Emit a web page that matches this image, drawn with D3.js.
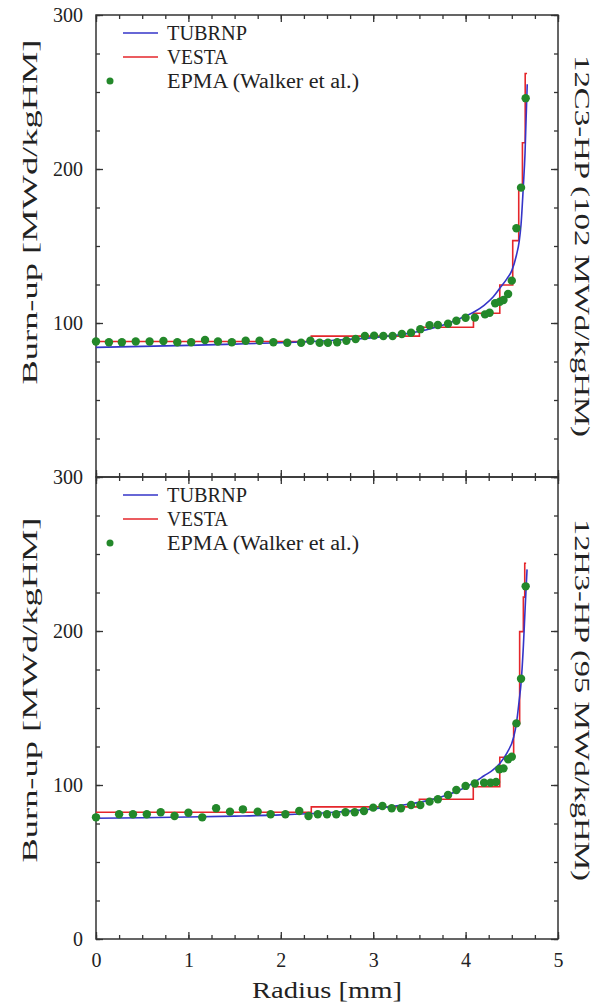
<!DOCTYPE html>
<html><head><meta charset="utf-8">
<script src="https://cdn.jsdelivr.net/npm/d3@7"></script>
<style>
body{margin:0;background:#fff;}
svg{display:block;}
text{font-family:"Liberation Serif","Times New Roman",serif;fill:#222;}
</style></head>
<body>
<svg id="c" width="594" height="1004"></svg>
<script>
// ---------- data ----------
const xTicks = [0, 1, 2, 3, 4, 5];
const yTicksTop = [100, 200, 300];
const yTicksBottom = [0, 100, 200, 300];
const legendLabels = ["TUBRNP", "VESTA", "EPMA (Walker et al.)"];
const yAxisTitle = "Burn-up [MWd/kgHM]";
const xAxisTitle = "Radius [mm]";
const panelTitles = ["12C3-HP (102 MWd/kgHM)", "12H3-HP (95 MWd/kgHM)"];

// top panel 12C3-HP
const tubrnpTopR = [0, 0.5, 1, 1.5, 2, 2.5, 3, 3.3, 3.6, 3.8, 4.0, 4.1, 4.2, 4.3, 4.37, 4.45, 4.5, 4.55, 4.58, 4.6, 4.625, 4.643, 4.655, 4.667];
const tubrnpTopV = [84.2, 84.8, 85.5, 86.3, 87.2, 88.5, 90.5, 92.5, 96, 99.5, 104.5, 107.5, 111.5, 117, 122.5, 129, 134, 144, 153, 164, 189, 210, 233, 255];
const vestaTopEdges = [0, 2.33, 3.5, 4.085, 4.37, 4.51, 4.575, 4.615, 4.645, 4.665];
const vestaTopV = [88, 91.5, 97.2, 106.3, 124.7, 153.5, 188, 217, 262];
const epmaTopR = [0, 0.14, 0.28, 0.43, 0.58, 0.73, 0.88, 1.03, 1.18, 1.32, 1.47, 1.62, 1.77, 1.92, 2.07, 2.22, 2.32, 2.42, 2.51, 2.61, 2.71, 2.81, 2.91, 3.01, 3.11, 3.21, 3.31, 3.41, 3.51, 3.61, 3.70, 3.81, 3.90, 4.00, 4.10, 4.21, 4.26, 4.32, 4.37, 4.41, 4.46, 4.50, 4.55, 4.60, 4.65];
const epmaTopV = [88, 87.5, 87.5, 88, 88, 88.3, 87.5, 87.5, 89, 88, 87.5, 88.5, 88.5, 87.5, 87.2, 87.2, 88.5, 87.2, 87.2, 87.5, 88.5, 89.6, 91.6, 91.8, 91.6, 91.6, 92.9, 93.7, 96, 98.5, 98.7, 99.5, 101.5, 103.4, 103.5, 105.6, 106.7, 112.8, 113.8, 114.9, 118.8, 127.5, 161.5, 187.9, 246];

// bottom panel 12H3-HP
const tubrnpBotR = [0, 0.5, 1, 1.5, 2, 2.5, 3, 3.3, 3.6, 3.8, 4.0, 4.1, 4.2, 4.3, 4.37, 4.45, 4.52, 4.55, 4.58, 4.6, 4.625, 4.643, 4.655, 4.665];
const tubrnpBotV = [78.4, 78.7, 79.2, 79.8, 80.6, 82, 84.5, 86.8, 90, 93.5, 98.5, 102, 106, 110, 114, 121, 131, 140, 155, 166, 190, 213, 228, 240];
const vestaBotEdges = [0, 2.33, 3.5, 4.083, 4.37, 4.52, 4.585, 4.625, 4.64, 4.655];
const vestaBotV = [82.3, 85.8, 90.7, 98.9, 118, 140, 199.6, 222, 244];
const epmaBotR = [0, 0.25, 0.40, 0.55, 0.70, 0.85, 1.00, 1.15, 1.30, 1.45, 1.59, 1.75, 1.89, 2.05, 2.20, 2.30, 2.40, 2.50, 2.60, 2.70, 2.80, 2.90, 3.00, 3.10, 3.20, 3.30, 3.41, 3.51, 3.61, 3.70, 3.81, 3.90, 4.00, 4.10, 4.20, 4.27, 4.33, 4.365, 4.41, 4.46, 4.50, 4.55, 4.60, 4.65];
const epmaBotV = [79, 81, 81, 81, 82.3, 79.9, 82, 79, 84.9, 82.7, 84.2, 82.7, 81, 81, 83.1, 79.9, 81, 81, 81, 82.3, 82.3, 83.1, 85.3, 86.4, 84.9, 84.9, 87, 87, 89.2, 90.7, 93.5, 96.8, 99.4, 101, 101.5, 101.5, 102, 110.2, 110.8, 116.7, 118.4, 140, 169, 229];

// ---------- layout ----------
const svg = d3.select("#c");
const X0 = 96, X1 = 558;
const panels = [
  {top: 15, bottom: 477, ticks: yTicksTop, tR: tubrnpTopR, tV: tubrnpTopV, vE: vestaTopEdges, vV: vestaTopV, eR: epmaTopR, eV: epmaTopV, title: panelTitles[0], ylabC: 212, rlabC: 246, rlen: 382, xLabels: false},
  {top: 477, bottom: 939, ticks: yTicksBottom, tR: tubrnpBotR, tV: tubrnpBotV, vE: vestaBotEdges, vV: vestaBotV, eR: epmaBotR, eV: epmaBotV, title: panelTitles[1], ylabC: 690, rlabC: 700, rlen: 362, xLabels: true}
];
const x = d3.scaleLinear().domain([0, 5]).range([X0, X1]);
const axisColor = "#333";
const BLUE = "#3535c8", RED = "#e5262b", GREEN = "#23882a";
const FONT = "Liberation Serif";
const minorX = d3.range(0, 5.001, 0.25);
const minorY = d3.range(0, 300.1, 25);

function styleAxis(g) {
  g.select(".domain").remove();
  g.selectAll(".tick line").attr("stroke", axisColor).attr("stroke-width", 1.3);
  g.selectAll(".tick text").attr("font-family", FONT).attr("font-size", 20).attr("fill", "#222");
}

panels.forEach((p, i) => {
  const y = d3.scaleLinear().domain([0, 300]).range([p.bottom, p.top]);
  const g = svg.append("g");

  // minor ticks
  g.append("g").attr("transform", `translate(${X0},0)`).call(d3.axisLeft(y).tickValues(minorY).tickSize(-4).tickFormat("")).call(styleAxis);
  g.append("g").attr("transform", `translate(${X1},0)`).call(d3.axisRight(y).tickValues(minorY).tickSize(-4).tickFormat("")).call(styleAxis);
  g.append("g").attr("transform", `translate(0,${p.top})`).call(d3.axisTop(x).tickValues(minorX).tickSize(-4).tickFormat("")).call(styleAxis);
  g.append("g").attr("transform", `translate(0,${p.bottom})`).call(d3.axisBottom(x).tickValues(minorX).tickSize(-4).tickFormat("")).call(styleAxis);
  // major ticks
  g.append("g").attr("transform", `translate(${X0},0)`).call(d3.axisLeft(y).tickValues(p.ticks).tickSize(-7).tickPadding(13).tickFormat(d3.format("d"))).call(styleAxis);
  g.append("g").attr("transform", `translate(${X1},0)`).call(d3.axisRight(y).tickValues([0,100,200,300]).tickSize(-7).tickFormat("")).call(styleAxis);
  g.append("g").attr("transform", `translate(0,${p.top})`).call(d3.axisTop(x).tickValues(xTicks).tickSize(-7).tickFormat("")).call(styleAxis);
  g.append("g").attr("transform", `translate(0,${p.bottom})`)
    .call(d3.axisBottom(x).tickValues(xTicks).tickSize(-7).tickPadding(14).tickFormat(p.xLabels ? d3.format("d") : ""))
    .call(styleAxis);

  // frame
  g.append("rect").attr("x", X0).attr("y", p.top).attr("width", X1 - X0).attr("height", p.bottom - p.top)
    .attr("fill", "none").attr("stroke", axisColor).attr("stroke-width", 1.5);

  // VESTA step
  const stepPts = p.vV.map((v, k) => [p.vE[k], v]);
  stepPts.push([p.vE[p.vE.length - 1], p.vV[p.vV.length - 1]]);
  g.append("path").datum(stepPts)
    .attr("d", d3.line().x(d => x(d[0])).y(d => y(d[1])).curve(d3.curveStepAfter))
    .attr("fill", "none").attr("stroke", RED).attr("stroke-width", 1.6);

  // TUBRNP
  const tPts = p.tR.map((r, k) => [r, p.tV[k]]);
  g.append("path").datum(tPts)
    .attr("d", d3.line().x(d => x(d[0])).y(d => y(d[1])).curve(d3.curveMonotoneX))
    .attr("fill", "none").attr("stroke", BLUE).attr("stroke-width", 1.6);

  // EPMA
  g.selectAll("circle.e").data(p.eR.map((r, k) => [r, p.eV[k]])).join("circle")
    .attr("class", "e").attr("cx", d => x(d[0])).attr("cy", d => y(d[1])).attr("r", 4.2).attr("fill", GREEN);

  // legend
  const lg = g.append("g").attr("transform", `translate(0,${p.top})`);
  const rows = [18, 42, 66];
  lg.append("line").attr("x1", 123).attr("x2", 158).attr("y1", rows[0]).attr("y2", rows[0]).attr("stroke", BLUE).attr("stroke-width", 1.6);
  lg.append("line").attr("x1", 123).attr("x2", 158).attr("y1", rows[1]).attr("y2", rows[1]).attr("stroke", RED).attr("stroke-width", 1.6);
  lg.append("circle").attr("cx", 110).attr("cy", rows[2]).attr("r", 3.5).attr("fill", GREEN);
  const lw = [80, 61, 192];
  legendLabels.forEach((t, k) => {
    lg.append("text").attr("x", 167).attr("y", rows[k] + 7).attr("font-size", 20)
      .attr("textLength", lw[k]).attr("lengthAdjust", "spacingAndGlyphs").text(t);
  });

  // y axis title
  g.append("text").attr("transform", `translate(37,${p.ylabC}) rotate(-90)`)
    .attr("text-anchor", "middle").attr("font-size", 21)
    .attr("textLength", 345).attr("lengthAdjust", "spacingAndGlyphs").text(yAxisTitle);
  // right title
  g.append("text").attr("transform", `translate(575,${p.rlabC}) rotate(90)`)
    .attr("text-anchor", "middle").attr("font-size", 21)
    .attr("textLength", p.rlen).attr("lengthAdjust", "spacingAndGlyphs").text(p.title);
});

svg.append("text").attr("x", (X0 + X1) / 2).attr("y", 998).attr("text-anchor", "middle").attr("font-size", 24)
  .attr("textLength", 150).attr("lengthAdjust", "spacingAndGlyphs").text(xAxisTitle);
</script>
</body></html>
